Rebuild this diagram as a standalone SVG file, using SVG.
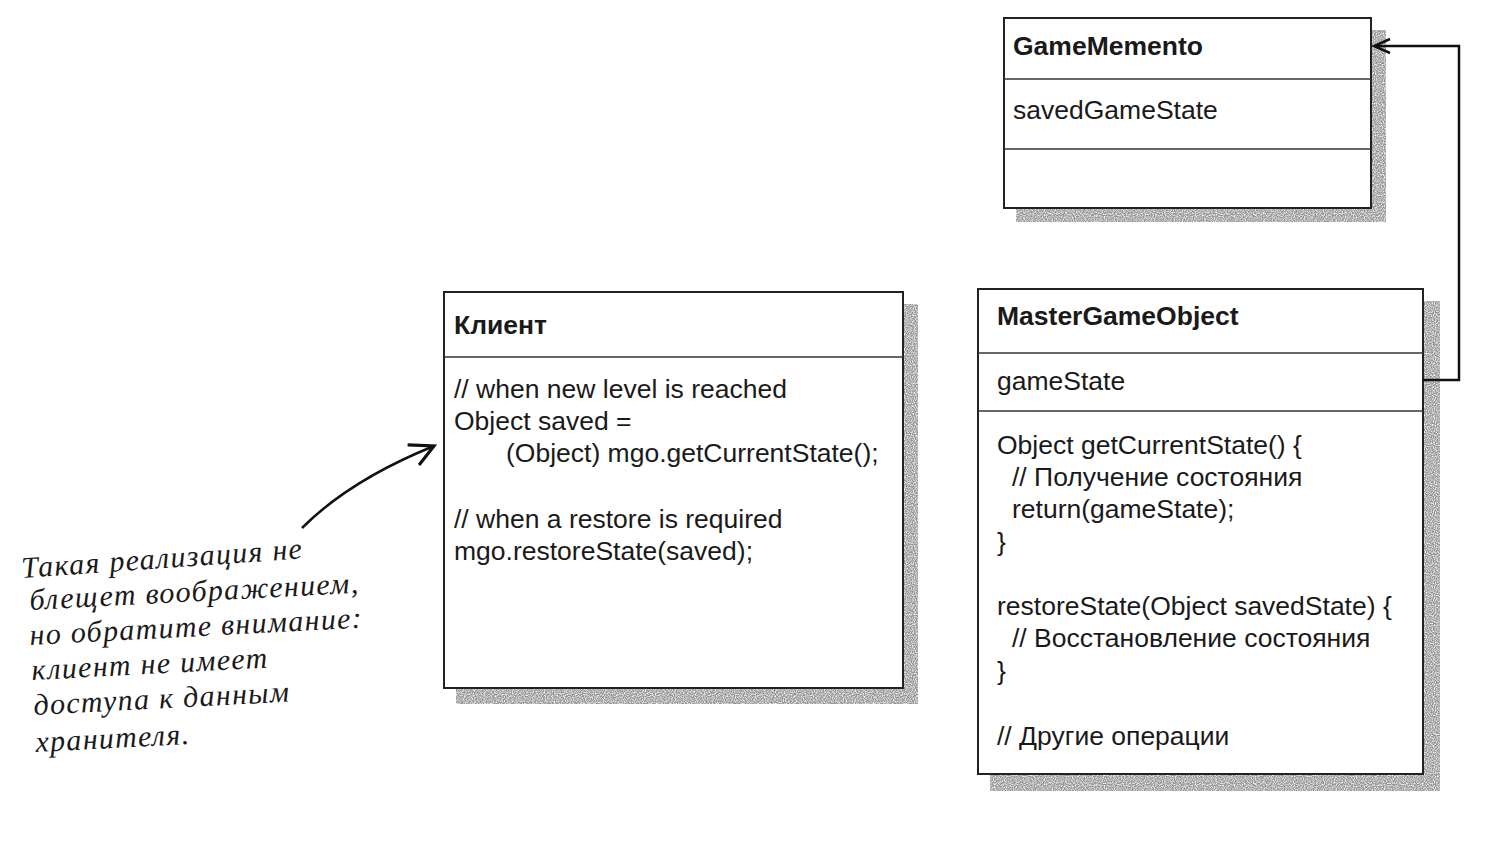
<svg xmlns="http://www.w3.org/2000/svg" width="1496" height="864" viewBox="0 0 1496 864">
<defs>
<filter id="stip" x="0" y="0" width="100%" height="100%">
<feTurbulence type="fractalNoise" baseFrequency="0.9" numOctaves="1" seed="3" result="n"/>
<feColorMatrix in="n" type="matrix" values="0 0 0 0 0.3  0 0 0 0 0.3  0 0 0 0 0.3  0 0 0 -2.4 1.9" result="d"/>
<feComposite in="d" in2="SourceGraphic" operator="in"/>
</filter>
<marker id="open" viewBox="0 0 20 20" refX="18" refY="10" markerWidth="20" markerHeight="20" markerUnits="userSpaceOnUse" orient="auto">
<path d="M2,3 L18,10 L2,17" fill="none" stroke="#111" stroke-width="2.5"/>
</marker>
<marker id="openBig" viewBox="0 0 30 30" refX="27" refY="15" markerWidth="30" markerHeight="30" markerUnits="userSpaceOnUse" orient="auto">
<path d="M3,4 L27,15 L6,27" fill="none" stroke="#111" stroke-width="3.2"/>
</marker>
</defs>
<style>
.box{fill:#fff;stroke:#222;stroke-width:2}
.shadow{fill:#000}
.div{stroke:#333;stroke-width:1.3}
.t{font-family:"Liberation Sans",Arial,sans-serif;font-size:26.5px;fill:#1a1a1a}
.b{font-weight:bold}
.hand{font-family:"Liberation Serif","Times New Roman",serif;font-style:italic;font-size:30px;letter-spacing:1.3px;fill:#1a1a1a}
.conn{fill:none;stroke:#111;stroke-width:2.5}
</style>
<rect width="1496" height="864" fill="#fff"/>

<g id="gameMemento">
<rect class="shadow" x="1016" y="30" width="370" height="192" filter="url(#stip)"/>
<rect class="box" x="1004" y="18" width="367" height="190"/>
<line class="div" x1="1004" y1="79" x2="1371" y2="79"/>
<line class="div" x1="1004" y1="149" x2="1371" y2="149"/>
<text class="t b" x="1013" y="55">GameMemento</text>
<text class="t" x="1013" y="119">savedGameState</text>
</g>

<g id="client">
<rect class="shadow" x="456" y="304" width="462" height="400" filter="url(#stip)"/>
<rect class="box" x="444" y="292" width="459" height="396"/>
<line class="div" x1="444" y1="357" x2="903" y2="357"/>
<text class="t b" x="454" y="334">Клиент</text>
<text class="t" x="454" y="398">// when new level is reached</text>
<text class="t" x="454" y="430">Object saved =</text>
<text class="t" x="506" y="462">(Object) mgo.getCurrentState();</text>
<text class="t" x="454" y="528">// when a restore is required</text>
<text class="t" x="454" y="560">mgo.restoreState(saved);</text>
</g>

<g id="masterGameObject">
<rect class="shadow" x="990" y="301" width="450" height="490" filter="url(#stip)"/>
<rect class="box" x="978" y="289" width="445" height="485"/>
<line class="div" x1="978" y1="353" x2="1423" y2="353"/>
<line class="div" x1="978" y1="411" x2="1423" y2="411"/>
<text class="t b" x="997" y="325">MasterGameObject</text>
<text class="t" x="997" y="390">gameState</text>
<text class="t" x="997" y="454">Object getCurrentState() {</text>
<text class="t" x="1012" y="486">// Получение состояния</text>
<text class="t" x="1012" y="518">return(gameState);</text>
<text class="t" x="997" y="551">}</text>
<text class="t" x="997" y="615">restoreState(Object savedState) {</text>
<text class="t" x="1012" y="647">// Восстановление состояния</text>
<text class="t" x="997" y="680">}</text>
<text class="t" x="997" y="745">// Другие операции</text>
</g>

<g id="note">
<text class="hand" transform="rotate(-4 22 578)" x="22" y="578">Такая реализация не</text>
<text class="hand" transform="rotate(-3 30 610)" x="30" y="610">блещет воображением,</text>
<text class="hand" transform="rotate(-3 30 645)" x="30" y="645">но обратите внимание:</text>
<text class="hand" transform="rotate(-3 32 680)" x="32" y="680">клиент не имеет</text>
<text class="hand" transform="rotate(-3 34 715)" x="34" y="715">доступа к данным</text>
<text class="hand" transform="rotate(-3 36 752)" x="36" y="752">хранителя.</text>
</g>

<g id="connectors">
<path class="conn" d="M1423,380 H1459 V46 H1374" marker-end="url(#open)"/>
<path class="conn" d="M302,528 Q350,480 434,446" stroke-width="3.2" marker-end="url(#openBig)"/>
</g>
</svg>
